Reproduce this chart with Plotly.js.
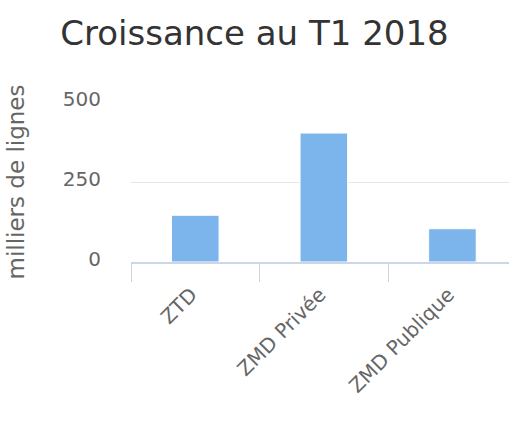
<!DOCTYPE html>
<html><head><meta charset="utf-8">
<script src="https://cdn.plot.ly/plotly-3.0.1.min.js"></script>
<style>html,body{margin:0;padding:0;background:#fff}#chart{width:509px;height:430px}</style>
</head><body><div id="chart"></div>
<script>
const categories = ["ZTD", "ZMD Privée", "ZMD Publique"];
const values = [146, 403, 104];
const yTicks = [0, 250, 500];
const titleText = "Croissance au T1 2018";
const yTitle = "milliers de lignes";

const FONT = "DejaVu Sans, sans-serif";
Plotly.newPlot("chart", [{
  type: "bar",
  x: categories,
  y: values,
  width: 0.37,
  marker: {color: "#7cb5ec", line: {color: "#ffffff", width: 1}},
  hoverinfo: "none"
}], {
  width: 509, height: 430,
  margin: {l: 131, r: 0, t: 102, b: 168},
  paper_bgcolor: "#ffffff", plot_bgcolor: "#ffffff",
  showlegend: false,
  title: {text: titleText, font: {family: FONT, size: 34, color: "#333333"},
          x: 0.5, xanchor: "center", xref: "container", y: 0.922, yref: "container", yanchor: "middle"},
  xaxis: {
    type: "category", range: [-0.5, 2.44],
    tickangle: -45, tickson: "boundaries", ticks: "outside", ticklen: 18, tickwidth: 1, tickcolor: "#ccd6eb",
    showline: true, linecolor: "#ccd6eb", linewidth: 2, showgrid: false, zeroline: false,
    ticklabelstandoff: 11, ticklabelshift: -4,
    tickfont: {family: FONT, size: 20, color: "#666666"}
  },
  yaxis: {
    range: [0, 500], tickvals: yTicks, ticktext: yTicks.map(String),
    showgrid: true, gridcolor: "#e6e6e6", gridwidth: 1, zeroline: false, showline: false,
    ticks: "", ticklabelstandoff: 29, ticklabelshift: -3,
    tickfont: {family: FONT, size: 20, color: "#666666"},
    title: {text: yTitle, font: {family: FONT, size: 23, color: "#666666"}, standoff: 31}
  },
  bargap: 0
}, {staticPlot: true, displayModeBar: false});
</script>
</body></html>
